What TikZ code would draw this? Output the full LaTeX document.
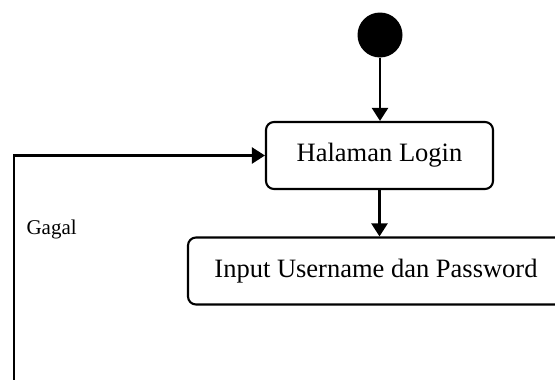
\documentclass[tikz,border=0pt]{standalone}
\usepackage{fontspec}
\setmainfont{Liberation Serif}
\usetikzlibrary{arrows.meta}
\begin{document}
\begin{tikzpicture}[x=1pt,y=-1pt,
  action/.style={draw, line width=2.1pt, rounded corners=8pt, inner sep=0pt,
    minimum height=67pt, font=\fontsize{26.5}{30}\selectfont},
  flow/.style={line width=2.2pt, -{Triangle[length=13pt,width=16pt]}},
  startnode/.style={circle, fill=black, inner sep=0pt, minimum size=45pt}]
  \clip (0,0) rectangle (555,380);
  \fill[white] (0,0) rectangle (555,380);

  % initial state
  \node[startnode] (start) at (380,35) {};

  % activities
  \node[action, minimum width=227pt] (halaman) at (379.5,155.5) {Halaman Login};
  \node[action, minimum width=376pt] (input) at (376,271) {Input Username dan Password};

  % flows
  \draw[flow] (start.south) -- (start.south |- halaman.north);
  \draw[flow] (halaman.south) -- (halaman.south |- input.north);

  % return path on failure
  \coordinate (loop) at (14,385);
  \draw[flow] (loop) |- (halaman.west);
  \node[anchor=west, font=\fontsize{21}{24}\selectfont] (gagal) at (23,229) {Gagal};
\end{tikzpicture}
\end{document}
